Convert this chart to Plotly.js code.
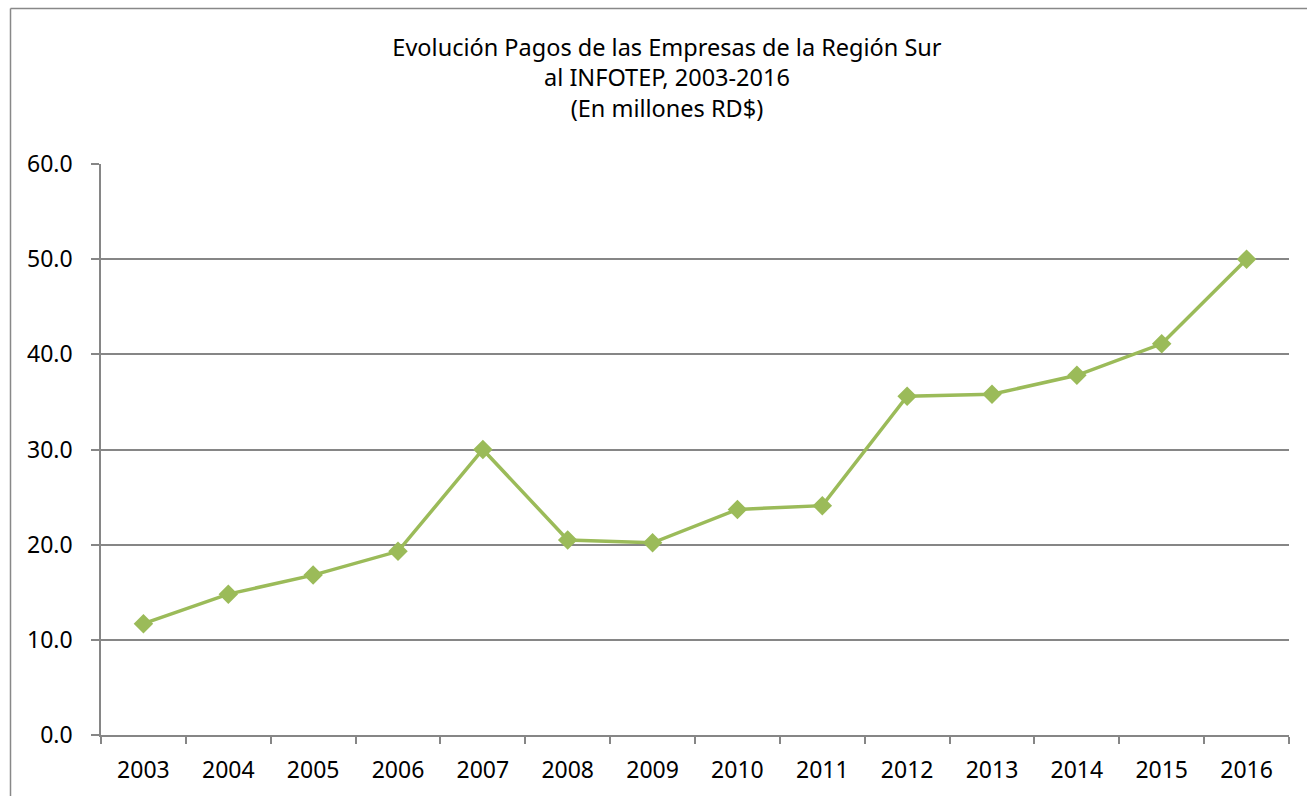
<!DOCTYPE html>
<html>
<head>
<meta charset="utf-8">
<script src="https://cdn.plot.ly/plotly-3.0.1.min.js"></script>
<style>html,body{margin:0;padding:0;background:#fff;}#chart{width:1307px;height:796px;}</style>
</head>
<body>
<div id="chart"></div>
<script>
const years = ['2003','2004','2005','2006','2007','2008','2009','2010','2011','2012','2013','2014','2015','2016'];
const pagos = [11.7, 14.8, 16.8, 19.3, 30.0, 20.5, 20.2, 23.7, 24.1, 35.6, 35.8, 37.8, 41.1, 50.0];
const yTicks = [0, 10, 20, 30, 40, 50, 60];
const yTickLabels = ['0.0','10.0','20.0','30.0','40.0','50.0','60.0'];
const titleText = 'Evolución Pagos de las Empresas de la Región Sur<br>al INFOTEP, 2003-2016<br>(En millones RD$)';

const green = '#9BBB59';
const grey = '#868686';
const fontFam = '"Noto Sans", "Open Sans", sans-serif';

const trace = {
  x: years, y: pagos, type: 'scatter', mode: 'lines+markers',
  line: {color: green, width: 3.5},
  marker: {symbol: 'diamond', size: 15, color: green},
  hoverinfo: 'x+y'
};

const layout = {
  width: 1307, height: 796,
  margin: {l: 101, r: 18, t: 164, b: 61},
  paper_bgcolor: '#fff', plot_bgcolor: '#fff',
  font: {family: fontFam, color: '#000'},
  showlegend: false,
  title: {
    text: titleText, font: {family: fontFam, size: 23.5, color: '#000'},
    x: 0.5103, xref: 'container', xanchor: 'center',
    y: 0.93, yref: 'container', yanchor: 'top'
  },
  xaxis: {
    type: 'category', range: [-0.5, 13.5],
    showgrid: false, zeroline: false,
    showline: true, linecolor: grey, linewidth: 1.5,
    ticks: 'outside', tickson: 'boundaries', ticklen: 7, tickcolor: grey, tickwidth: 1.5,
    tickfont: {family: fontFam, size: 23, color: '#000'},
    ticklabelstandoff: 14
  },
  yaxis: {
    range: [0, 60], tickvals: yTicks, ticktext: yTickLabels,
    showgrid: true, gridcolor: grey, gridwidth: 1.5,
    zeroline: false, showline: true, linecolor: grey, linewidth: 1.5,
    ticks: 'outside', ticklen: 8, tickcolor: grey, tickwidth: 1.5,
    tickfont: {family: fontFam, size: 23, color: '#000'},
    ticklabelstandoff: 14
  },
  shapes: [
    {type: 'line', xref: 'paper', yref: 'paper', layer: 'above',
     x0: (10.5 - 101) / 1188, x1: (1310 - 101) / 1188,
     y0: (735 - 8.5) / 571, y1: (735 - 8.5) / 571,
     line: {color: '#888', width: 1.5}},
    {type: 'line', xref: 'paper', yref: 'paper', layer: 'above',
     x0: (10.5 - 101) / 1188, x1: (10.5 - 101) / 1188,
     y0: (735 - 8.5) / 571, y1: (735 - 800) / 571,
     line: {color: '#888', width: 1.5}}
  ]
};

Plotly.newPlot('chart', [trace], layout, {displayModeBar: false});
</script>
</body>
</html>
